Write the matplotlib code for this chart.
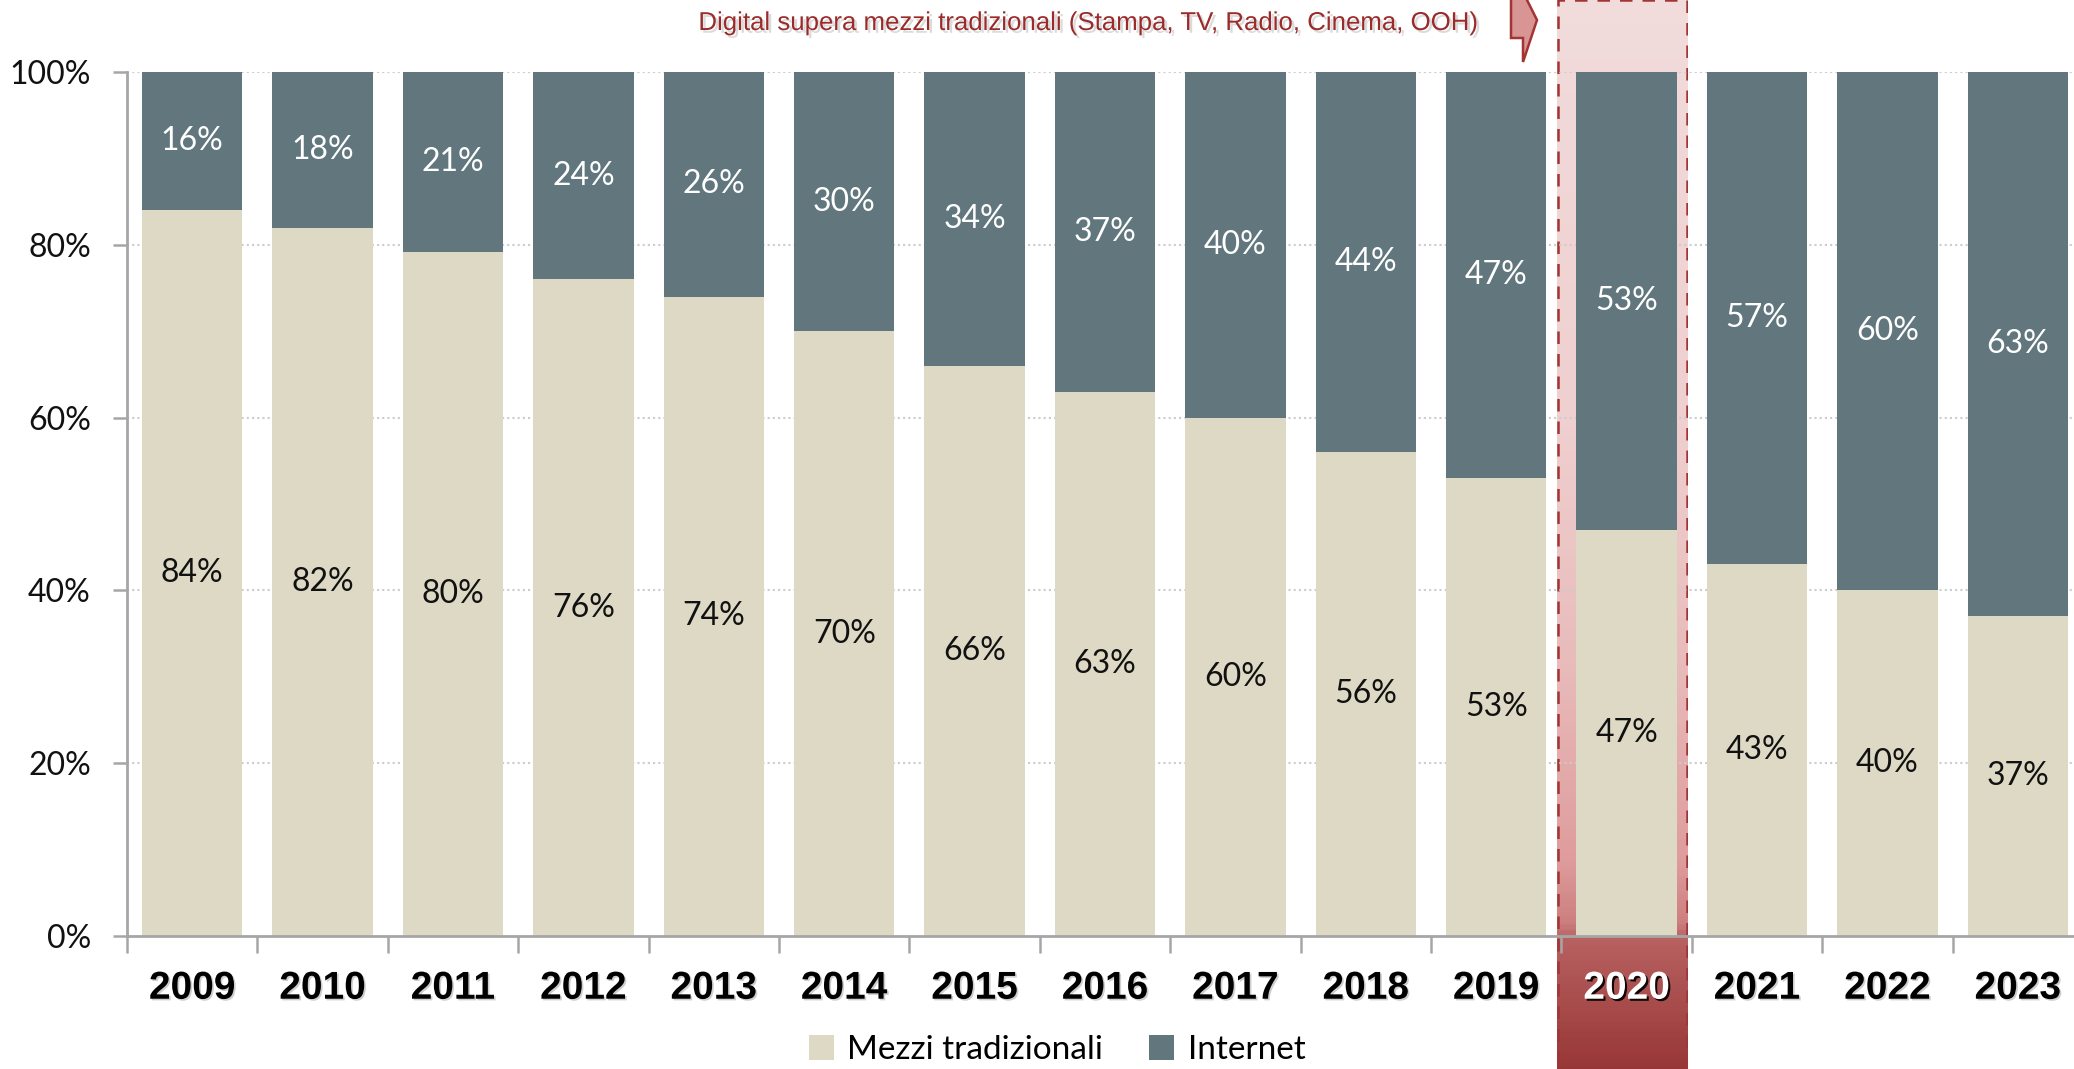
import numpy as np
import matplotlib
matplotlib.use("Agg")
import matplotlib.pyplot as plt
import matplotlib.patheffects as pe
from matplotlib.colors import LinearSegmentedColormap
from matplotlib.patches import Patch, Polygon, Rectangle

# --- data (labels as printed on the chart, bars normalised to 100%) ---
years = ["2009", "2010", "2011", "2012", "2013", "2014", "2015", "2016",
         "2017", "2018", "2019", "2020", "2021", "2022", "2023"]
tradizionali = [84, 82, 80, 76, 74, 70, 66, 63, 60, 56, 53, 47, 43, 40, 37]
internet = [16, 18, 21, 24, 26, 30, 34, 37, 40, 44, 47, 53, 57, 60, 63]
yticks = [0, 20, 40, 60, 80, 100]
highlight_year = "2020"
note = "Digital supera mezzi tradizionali (Stampa, TV, Radio, Cinema, OOH)"

C_TRAD = "#ddd9c4"
C_NET = "#61777d"
C_AXIS = "#a6a6a6"
W, H = 2074, 1069
LIGHT = ["Lato", "DejaVu Sans"]

trad = np.array(tradizionali, dtype=float)
net = np.array(internet, dtype=float)
tot = trad + net
trad_pct = trad / tot * 100
net_pct = net / tot * 100
x = np.arange(len(years))

fig = plt.figure(figsize=(W / 100, H / 100), dpi=100)
fig.patch.set_facecolor("white")

# axes layout (pixels of the reference)
ax_l, ax_b, ax_t = 127 / W, 1 - 936 / H, 1 - 72 / H
ax_w = 15 * 130.4 / W

# highlight column with vertical gradient (behind the bars)
hi = years.index(highlight_year)
hx0 = ax_l + hi / 15 * ax_w - 0.002
hx1 = ax_l + (hi + 1) / 15 * ax_w - 0.002
hax = fig.add_axes([hx0, -0.01, hx1 - hx0, 1.02], zorder=0)
stops = [(0.0, "#f2dcdc"), (0.40, "#efcfcf"), (0.62, "#e9bbbb"),
         (0.80, "#df9c9c"), (0.86, "#cc7e7e"), (0.87, "#b96262"),
         (1.0, "#963434")]
cmap = LinearSegmentedColormap.from_list("hl", stops)
grad = np.linspace(0, 1, 400).reshape(-1, 1)
hax.imshow(grad, aspect="auto", cmap=cmap, extent=[0, 1, 0, 1], origin="upper")
hax.add_patch(Rectangle((0.004, 0.003), 0.992, 0.987, fill=False,
                        edgecolor="#a33434", lw=1.8, ls=(0, (5, 4))))
hax.set_xlim(0, 1)
hax.set_ylim(0, 1)
hax.axis("off")

ax = fig.add_axes([ax_l, ax_b, ax_w, ax_t - ax_b], zorder=1)
ax.set_facecolor("none")

bw = 0.77
ax.bar(x, trad_pct, bw, color=C_TRAD, zorder=2, label="Mezzi tradizionali")
ax.bar(x, net_pct, bw, bottom=trad_pct, color=C_NET, zorder=2, label="Internet")

lab_font = dict(family=LIGHT, fontsize=23)
for i in range(len(years)):
    ax.text(x[i], trad_pct[i] / 2, f"{tradizionali[i]}%", ha="center",
            va="center", color="#111111", zorder=3, **lab_font)
    ax.text(x[i], trad_pct[i] + net_pct[i] / 2, f"{internet[i]}%", ha="center",
            va="center", color="white", zorder=3, **lab_font)

ax.set_xlim(-0.5, len(years) - 0.5)
ax.set_ylim(0, 100)
ax.set_yticks(yticks)
ax.set_yticklabels([f"{v}%" for v in yticks], fontsize=23, family=LIGHT,
                   color="#111111")
for v in yticks[1:]:
    ax.axhline(v, color="#cccccc", lw=1.5, ls=(0, (1, 1.5)), zorder=1)

ax.set_xticks(x)
ax.set_xticklabels(years, fontsize=28, fontweight="bold",
                   family=["Liberation Sans", "DejaVu Sans"])
ax.set_xticks(np.arange(-0.5, len(years)), minor=True)
ax.tick_params(axis="x", which="major", length=0, pad=25)
ax.tick_params(axis="x", which="minor", length=12, width=1.8, color=C_AXIS)
ax.tick_params(axis="y", length=10, width=1.8, color=C_AXIS, pad=16)
for i, t in enumerate(ax.get_xticklabels()):
    if years[i] == highlight_year:
        t.set_color("white")
        t.set_path_effects([pe.SimplePatchShadow(offset=(1.5, -1.5),
                                                 shadow_rgbFace="black", alpha=0.9),
                            pe.Normal()])
    else:
        t.set_color("black")
        t.set_path_effects([pe.SimplePatchShadow(offset=(1.2, -1.2),
                                                 shadow_rgbFace="#888888", alpha=0.4),
                            pe.Normal()])

for s in ["top", "right"]:
    ax.spines[s].set_visible(False)
for s in ["left", "bottom"]:
    ax.spines[s].set_color(C_AXIS)
    ax.spines[s].set_linewidth(2)
    ax.spines[s].set_zorder(4)

# annotation and arrow at the top
fig.text(1089 / W, 1 - 23 / H, note, ha="center", va="center", fontsize=18.6,
         color="#9b2b2b", family=["Liberation Sans Narrow", "Liberation Sans"],
         path_effects=[pe.SimplePatchShadow(offset=(2, -2), shadow_rgbFace="#999999",
                                            alpha=0.35), pe.Normal()])
arrow_px = [(1511, -2), (1526, -2), (1537, 20), (1523, 62), (1523, 38), (1511, 38)]
fig.patches.append(Polygon([(px / W, 1 - py / H) for px, py in arrow_px],
                           closed=True, facecolor="#d99494", edgecolor="#a33434",
                           lw=1.8, transform=fig.transFigure, zorder=5))

handles = [Patch(facecolor=C_TRAD, label="Mezzi tradizionali"),
           Patch(facecolor=C_NET, label="Internet")]
fig.legend(handles=handles, loc="center", bbox_to_anchor=(1057 / W, 1 - 1050 / H),
           ncol=2, frameon=False, handlelength=0.75, handleheight=0.75,
           handletextpad=0.4, columnspacing=1.4,
           prop=dict(family=LIGHT, size=24))

fig.savefig("out.png", dpi=100, facecolor="white")
